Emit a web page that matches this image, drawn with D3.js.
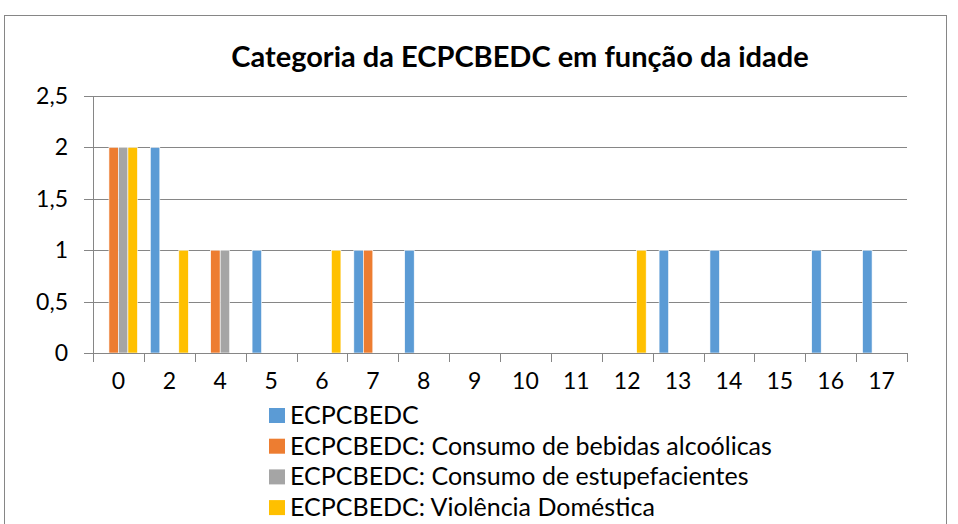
<!DOCTYPE html>
<html>
<head>
<meta charset="utf-8">
<script src="https://cdn.jsdelivr.net/npm/d3@7"></script>
<style>
  body { margin: 0; background: #fff; }
  svg { display: block; font-family: Lato, "Open Sans", sans-serif; }
  .grid line { stroke: #868686; stroke-width: 1; }
</style>
</head>
<body>
<svg id="chart" width="958" height="524"></svg>
<script>
// categories (idade)
var idades = ["0","2","4","5","6","7","8","9","10","11","12","13","14","15","16","17"];

var serieNames = ["ECPCBEDC",
                  "ECPCBEDC: Consumo de bebidas alcoólicas",
                  "ECPCBEDC: Consumo de estupefacientes",
                  "ECPCBEDC: Violência Doméstica"];
var serieColors = ["#5B9BD5", "#ED7D31", "#A5A5A5", "#FFC000"];

var ecpcbedc   = [0,2,0,1,0,1,1,0,0,0,0,1,1,0,1,1];
var alcool     = [2,0,1,0,0,1,0,0,0,0,0,0,0,0,0,0];
var estupef    = [2,0,1,0,0,0,0,0,0,0,0,0,0,0,0,0];
var violencia  = [2,1,0,0,1,0,0,0,0,0,1,0,0,0,0,0];

var yTicks = [0, 0.5, 1, 1.5, 2, 2.5];

var series = [ecpcbedc, alcool, estupef, violencia];

var svg = d3.select("#chart");

// chart border
svg.append("rect")
    .attr("x", 4.5).attr("y", 15.5)
    .attr("width", 942).attr("height", 530)
    .attr("fill", "none")
    .attr("stroke", "#868686");

svg.append("text")
    .attr("x", 520)
    .attr("y", 67)
    .attr("text-anchor", "middle")
    .style("font-weight", "bold")
    .style("font-size", "29px")
    .text("Categoria da ECPCBEDC em função da idade");

var pLeft = 93, pRight = 907, pTop = 96, pBottom = 353;

var x = d3.scaleBand()
    .domain(idades)
    .range([pLeft, pRight]);

var x1 = d3.scaleBand()
    .domain(d3.range(series.length))
    .range([0, x.bandwidth()])
    .paddingInner(0)
    .paddingOuter(0.68);

var y = d3.scaleLinear()
    .domain([0, 2.5])
    .range([pBottom, pTop]);

// gridlines
svg.append("g")
    .attr("class", "grid")
    .selectAll("line")
    .data(yTicks)
    .enter().append("line")
    .attr("x1", pLeft - 9)
    .attr("x2", pRight)
    .attr("y1", function(d) { return Math.round(y(d)) + 0.5; })
    .attr("y2", function(d) { return Math.round(y(d)) + 0.5; });

// y labels
svg.append("g")
    .selectAll("text")
    .data(yTicks)
    .enter().append("text")
    .attr("x", 68)
    .attr("y", function(d) { return y(d) + 8; })
    .attr("text-anchor", "end")
    .style("font-size", "23px")
    .text(function(d) { return String(d).replace(".", ","); });

// y axis line
svg.append("line")
    .attr("x1", pLeft + 0.5).attr("x2", pLeft + 0.5)
    .attr("y1", pTop).attr("y2", pBottom)
    .attr("stroke", "#868686");

// bars (zero values are not drawn)
var groups = svg.append("g")
    .selectAll("g")
    .data(series)
    .enter().append("g")
    .attr("fill", function(d, i) { return serieColors[i]; });

groups.each(function(vals, si) {
    var pts = vals.map(function(v, i) { return {idade: idades[i], v: v}; })
        .filter(function(d) { return d.v > 0; });
    d3.select(this).selectAll("rect")
        .data(pts)
        .enter().append("rect")
        .attr("x", function(d) { return x(d.idade) + x1(si); })
        .attr("width", x1.bandwidth())
        .attr("y", function(d) { return y(d.v); })
        .attr("height", function(d) { return y(0) - y(d.v); })
        .attr("stroke", "#fff")
        .attr("stroke-width", 0.6);
});

// x axis
var xAxis = d3.axisBottom(x)
    .tickSize(0)
    .tickPadding(19);

var gx = svg.append("g")
    .attr("transform", "translate(0," + (Math.round(pBottom) + 0.5) + ")")
    .call(xAxis);
gx.select(".domain").remove();
gx.selectAll("text")
    .style("font-size", "23px")
    .style("font-family", "Lato, 'Open Sans', sans-serif")
    .attr("fill", "#000");

svg.append("line")
    .attr("x1", pLeft).attr("x2", pRight)
    .attr("y1", Math.round(pBottom) + 0.5).attr("y2", Math.round(pBottom) + 0.5)
    .attr("stroke", "#868686");

// category boundary ticks
svg.append("g")
    .selectAll("line")
    .data(idades.concat(["end"]))
    .enter().append("line")
    .attr("x1", function(d, i) { return Math.round(pLeft + i * x.step()) + 0.5; })
    .attr("x2", function(d, i) { return Math.round(pLeft + i * x.step()) + 0.5; })
    .attr("y1", pBottom)
    .attr("y2", pBottom + 9)
    .attr("stroke", "#868686");

// legend
var legend = svg.append("g")
    .selectAll("g")
    .data(serieNames)
    .enter().append("g")
    .attr("transform", function(d, i) { return "translate(269," + (408 + i * 30.7) + ")"; });

legend.append("rect")
    .attr("width", 16)
    .attr("height", 15)
    .attr("fill", function(d, i) { return serieColors[i]; });

legend.append("text")
    .attr("x", 21)
    .attr("y", 16)
    .style("font-size", "25px")
    .text(function(d) { return d; });
</script>
</body>
</html>
